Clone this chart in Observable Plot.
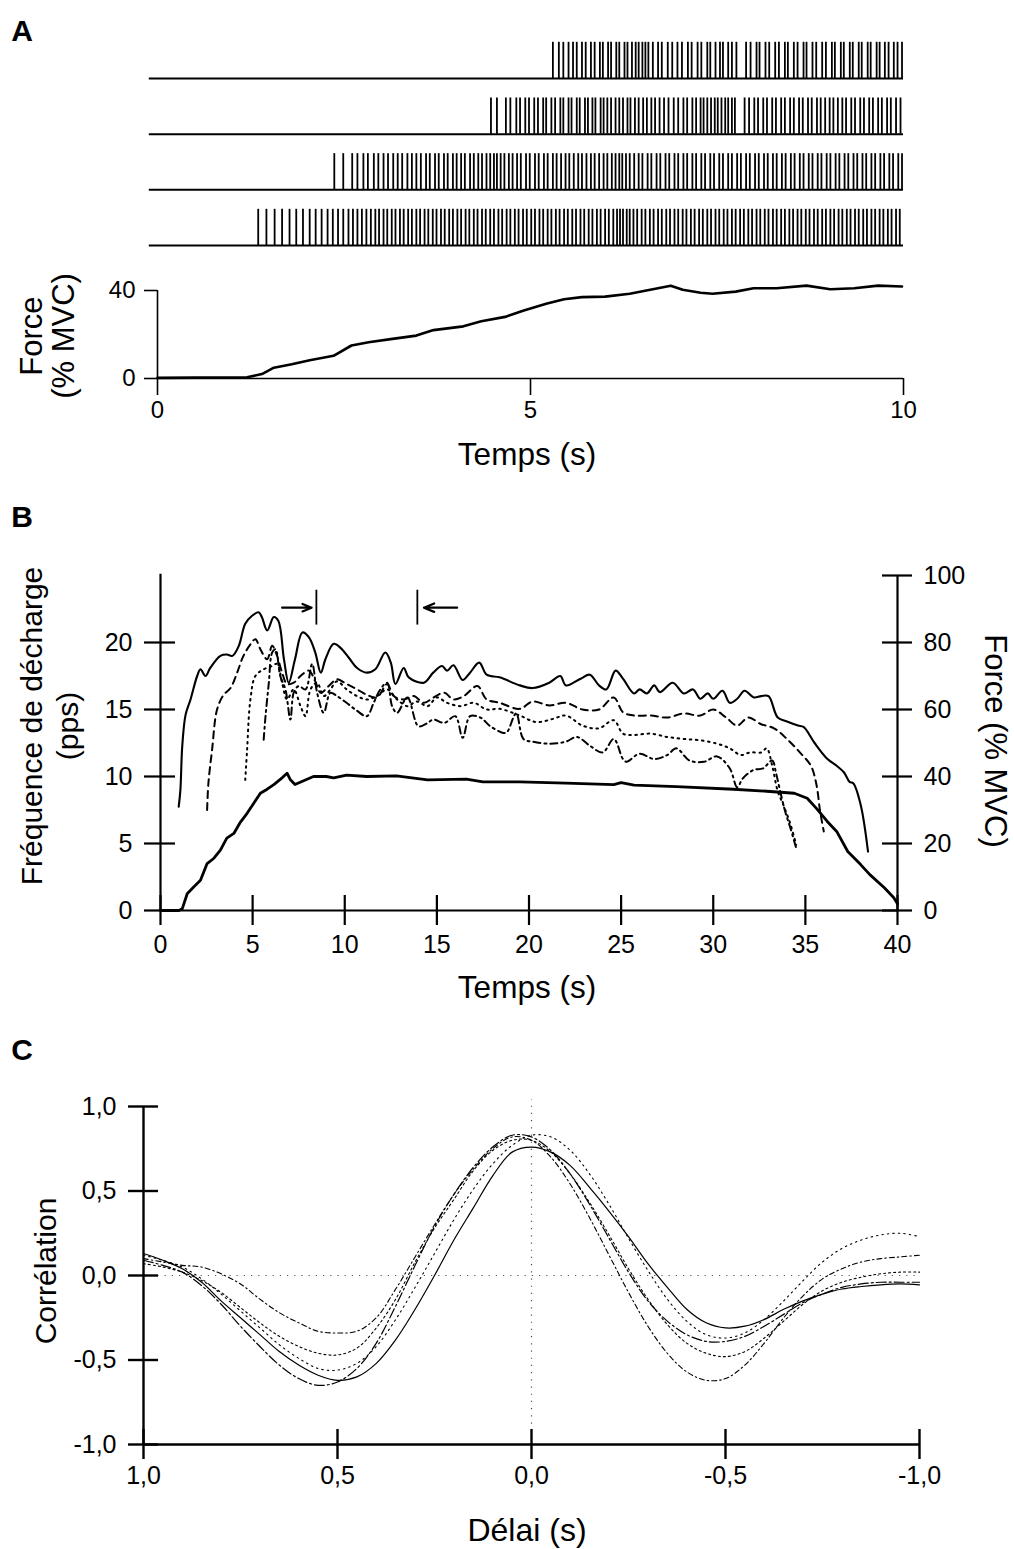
<!DOCTYPE html>
<html lang="fr">
<head>
<meta charset="utf-8">
<script src="https://cdn.jsdelivr.net/npm/d3@7"></script>
<script src="https://cdn.jsdelivr.net/npm/@observablehq/plot@0.6"></script>
<style>
html,body{margin:0;padding:0;background:#fff;overflow:hidden;}
#page{position:relative;width:1014px;height:1549px;font-family:Arial,"Liberation Sans",Helvetica,sans-serif;color:#000;}
.panel{position:absolute;left:0;}
.t{position:absolute;white-space:nowrap;font-size:30px;line-height:1;}
.c{transform:translate(-50%,-50%);}
.ccw{transform:translate(-50%,-50%) rotate(-90deg);}
.cw{transform:translate(-50%,-50%) rotate(90deg);}
.letter{font-weight:bold;font-size:30px;}
</style>
</head>
<body>
<div id="page"></div>
<script>
// ================= DATA =================
// Panel A — spike trains (s), one array per motor unit (top to bottom)
const trainStartTime = -0.11;
const trainEndTime = 10;
const spikesRow1 = [5.30,5.38,5.44,5.51,5.57,5.62,5.69,5.74,5.81,5.86,5.93,5.97,6.04,6.08,6.15,6.19,6.26,6.30,6.36,6.41,6.45,6.50,6.54,6.58,6.64,6.71,6.76,6.84,6.90,6.97,7.03,7.11,7.16,7.24,7.29,7.37,7.41,7.48,7.54,7.58,7.65,7.70,7.76,7.89,7.95,8.03,8.07,8.15,8.20,8.28,8.33,8.41,8.45,8.53,8.58,8.66,8.70,8.78,8.83,8.91,8.96,9.04,9.08,9.16,9.20,9.28,9.32,9.40,9.44,9.52,9.56,9.64,9.68,9.75,9.80,9.87,9.92,9.98];
const spikesRow2 = [4.47,4.55,4.67,4.73,4.81,4.86,4.93,4.98,5.05,5.10,5.17,5.21,5.28,5.33,5.40,5.44,5.51,5.55,5.62,5.66,5.73,5.77,5.83,5.87,5.94,5.98,6.03,6.08,6.14,6.19,6.24,6.30,6.34,6.40,6.45,6.51,6.56,6.62,6.67,6.73,6.79,6.85,6.92,6.98,7.05,7.10,7.17,7.22,7.28,7.32,7.37,7.42,7.47,7.51,7.56,7.61,7.65,7.70,7.74,7.87,7.93,8.00,8.05,8.12,8.17,8.24,8.29,8.36,8.41,8.48,8.53,8.60,8.65,8.72,8.77,8.84,8.89,8.95,9.01,9.06,9.12,9.18,9.23,9.30,9.35,9.42,9.47,9.54,9.59,9.66,9.71,9.78,9.83,9.90,9.96];
const spikesRow3 = [2.37,2.49,2.61,2.68,2.76,2.82,2.90,2.96,3.03,3.09,3.16,3.22,3.28,3.35,3.41,3.47,3.53,3.60,3.65,3.72,3.77,3.84,3.89,3.96,4.01,4.07,4.12,4.19,4.24,4.30,4.35,4.41,4.46,4.51,4.55,4.60,4.65,4.71,4.76,4.82,4.87,4.94,4.99,5.06,5.11,5.18,5.23,5.30,5.35,5.41,5.47,5.52,5.58,5.64,5.69,5.75,5.81,5.86,5.92,5.98,6.03,6.09,6.14,6.19,6.23,6.28,6.33,6.39,6.45,6.50,6.57,6.62,6.69,6.74,6.81,6.86,6.93,6.98,7.05,7.10,7.17,7.22,7.29,7.34,7.41,7.46,7.53,7.58,7.65,7.70,7.77,7.82,7.89,7.94,8.01,8.06,8.13,8.18,8.25,8.30,8.37,8.42,8.49,8.54,8.61,8.66,8.73,8.78,8.85,8.90,8.97,9.02,9.09,9.14,9.21,9.26,9.33,9.38,9.45,9.50,9.57,9.62,9.69,9.74,9.81,9.86,9.93,9.98];
const spikesRow4 = [1.35,1.46,1.57,1.67,1.77,1.86,1.95,2.04,2.12,2.20,2.28,2.35,2.42,2.49,2.56,2.62,2.68,2.74,2.80,2.86,2.92,2.97,3.03,3.08,3.14,3.19,3.25,3.30,3.36,3.41,3.47,3.52,3.58,3.63,3.69,3.74,3.80,3.85,3.91,3.96,4.02,4.07,4.13,4.18,4.24,4.29,4.35,4.40,4.46,4.51,4.57,4.62,4.68,4.73,4.79,4.84,4.90,4.95,5.01,5.06,5.12,5.17,5.23,5.28,5.34,5.39,5.45,5.50,5.56,5.61,5.67,5.72,5.78,5.83,5.89,5.94,6.00,6.05,6.11,6.16,6.20,6.24,6.29,6.33,6.38,6.43,6.49,6.54,6.60,6.65,6.71,6.76,6.82,6.87,6.93,6.98,7.04,7.09,7.15,7.20,7.26,7.31,7.37,7.42,7.48,7.53,7.59,7.64,7.70,7.75,7.81,7.86,7.92,7.97,8.03,8.08,8.14,8.19,8.25,8.30,8.36,8.41,8.47,8.52,8.58,8.63,8.69,8.74,8.80,8.85,8.91,8.96,9.02,9.07,9.13,9.18,9.24,9.29,9.35,9.40,9.46,9.51,9.57,9.62,9.68,9.73,9.79,9.84,9.90,9.95];

// Panel A — force (% MVC) vs time (s)
const forceA = [[0,0.3],[0.5,0.4],[1.0,0.4],[1.2,0.6],[1.4,2],[1.56,4.9],[1.8,6.5],[2.04,8.3],[2.36,10.3],[2.6,15],[2.83,16.5],[3.15,18],[3.47,19.5],[3.7,22],[4.1,23.7],[4.34,26],[4.66,28],[4.9,30.8],[5.21,34],[5.45,36],[5.69,37],[6.0,37.2],[6.33,38.5],[6.64,40.6],[6.88,42.2],[7.04,40.3],[7.28,39],[7.44,38.5],[7.75,39.5],[7.99,41],[8.3,41],[8.7,42.2],[9.02,40.6],[9.34,41],[9.66,42.2],[9.98,41.8]];
const aXTicks = [0, 5, 10];
const aYTicks = [0, 40];

// Panel B — firing rates (pps) vs time (s), four units
const unit1 = [[0.99,7.75],[1.08,9],[1.18,12.25],[1.36,14.6],[1.63,15.75],[1.99,17.5],[2.17,18],[2.44,17.5],[2.7,18.1],[3.25,19],[3.6,19.1],[3.9,19],[4.25,19.75],[4.6,21.4],[4.97,22],[5.33,22.25],[5.5,21.9],[5.79,20.9],[6.15,21.9],[6.4,21.6],[6.7,18.75],[6.96,17],[7.3,18.75],[7.7,20.75],[8.05,20.4],[8.4,19.25],[8.7,17.75],[8.95,18.75],[9.4,19.9],[9.77,19.6],[10.2,18.9],[10.67,18.1],[11.2,17.75],[11.66,18],[12.2,19.25],[12.5,18.5],[12.75,16.9],[13.2,18.1],[13.47,17.4],[14.3,17],[14.8,17.75],[15.28,18.25],[15.55,17.9],[15.9,18.3],[16.4,17.2],[16.8,17.75],[17.3,18.5],[17.7,17.6],[18.4,17.4],[19.5,16.8],[20.2,16.6],[21.1,17],[21.7,17.5],[22,16.8],[22.8,17.3],[23.3,17.6],[23.8,16.8],[24.2,16.5],[24.7,17.9],[25.1,17.3],[25.7,16.2],[26,16.5],[26.4,16.2],[26.8,16.8],[27.1,16.3],[27.8,17],[28.4,16.2],[28.9,16.5],[29.3,15.8],[29.7,16.2],[30,15.8],[30.5,16.4],[30.9,15.5],[31.3,15.8],[31.7,16.4],[32.2,15.9],[32.6,16],[33,16],[33.5,14.4],[34,14.1],[34.6,13.8],[34.9,13.7],[35.5,12.5],[36.2,11.3],[36.7,10.8],[37.1,10.3],[37.4,9.6],[37.6,9.5],[38,7.9],[38.4,4.4]];
const unit2 = [[2.53,7.5],[2.6,9.5],[2.8,12],[3.07,15],[3.43,16.1],[3.8,16.6],[4.16,17.75],[4.5,19],[4.9,19.9],[5.15,20.25],[5.42,19.5],[5.79,18.75],[6.06,19.75],[6.33,19],[6.6,17.75],[6.87,16.9],[7.23,17],[7.6,17.5],[8.05,17.9],[8.4,17.1],[8.7,16.25],[9.13,16.75],[9.58,17.25],[10.1,16.9],[10.67,16.5],[11.2,16.1],[11.75,15.9],[12.3,16.9],[12.66,16],[13.2,15.75],[13.74,16],[14.3,15.5],[14.83,15.9],[15.4,16.25],[15.9,15.75],[16.46,16],[17.2,16.75],[17.7,15.75],[18.4,15.5],[19.5,15.05],[20.2,15.6],[21.1,15.3],[22,15.5],[22.9,15],[23.8,15],[24.6,15.9],[25.1,14.8],[25.7,14.55],[26.6,14.55],[27.5,14.4],[28.4,14.7],[29.3,14.55],[30,15],[30.7,14.4],[31.3,13.8],[31.9,14.4],[32.6,13.9],[33.3,13.6],[34,12.8],[34.7,11.8],[35.3,10.8],[35.6,9.4],[35.8,7.4],[36,5.9]];
const unit3 = [[4.6,9.75],[4.7,12],[4.88,15.75],[5.15,17.5],[5.6,18],[6.06,18.25],[6.33,18.4],[6.6,17],[6.87,15.75],[7.23,16.5],[7.6,15.25],[7.87,14.5],[8.14,16.5],[8.5,17],[8.86,16],[9.22,16.5],[9.58,17.1],[10.1,16.5],[10.67,16],[11.2,15.75],[11.75,16],[12.3,16.5],[12.84,15.75],[13.4,15.25],[13.9,15.6],[14.5,15.25],[15,15.9],[15.55,15.5],[16.3,15.25],[17,15.5],[17.7,15],[18.4,15.05],[19.5,14.55],[20.4,14.06],[21.3,14.3],[22,14.55],[22.9,13.8],[23.8,13.6],[24.6,14.2],[25.1,13.2],[25.7,13.1],[26.6,13.2],[27.5,12.95],[28.4,12.8],[29.3,12.7],[30.2,12.45],[30.9,12.1],[31.5,11.6],[32,11.8],[32.6,11.8],[32.9,12.1],[33.2,10.8],[33.5,8.9],[33.8,7.9],[34.2,6.4],[34.5,4.9]];
const unit4 = [[5.6,12.75],[5.7,14.5],[5.88,17],[6.06,19.25],[6.24,19.5],[6.5,17.5],[6.78,16.5],[7.05,14.25],[7.23,16.25],[7.5,16.75],[7.87,16.5],[8.23,18.4],[8.5,16.25],[8.86,14.75],[9.22,16.25],[9.58,16],[10.1,15.5],[10.67,14.9],[11.2,14.5],[11.57,15.5],[11.93,16.5],[12.3,17],[12.57,15.25],[12.84,14.75],[13.4,15.9],[14,13.75],[14.5,14],[14.8,14.25],[15.4,14],[16,14.5],[16.4,12.9],[16.8,14.5],[17.36,14.4],[17.9,13.75],[18.6,13.25],[18.8,13.3],[19.3,14.7],[19.7,12.8],[20.2,12.6],[21.1,12.45],[22,12.6],[22.6,12.95],[23.3,12.3],[24,11.8],[24.6,12.8],[25.1,11.3],[25.3,11.1],[26,11.7],[26.8,11.3],[27.5,11.6],[28,12.1],[28.7,11.2],[29.5,11.1],[30.2,11.5],[30.9,10.6],[31.3,9.2],[31.6,9.85],[32.2,10.5],[32.7,10.6],[33.2,11.2],[33.4,10.3],[33.6,9.1],[33.9,7.4],[34.2,6.1],[34.5,4.65]];
// Panel B — force (% MVC) vs time (s), right axis
const forceB = [[0,0],[1.0,0],[1.18,0.5],[1.45,5],[1.8,7],[2.17,9],[2.53,14],[2.9,15.6],[3.25,18],[3.6,21.6],[3.98,23],[4.34,26.4],[4.7,29],[5.06,32],[5.42,35],[5.79,36.2],[6.15,37.6],[6.6,39.6],[6.87,41],[7.05,39],[7.3,37.6],[7.8,38.8],[8.3,40],[9.0,40],[9.4,39.6],[10.1,40.4],[11.2,40],[12.8,40.2],[14.5,39],[16.6,39.2],[17.5,38.4],[19.5,38.4],[22,38],[24.6,37.6],[25.0,38.2],[25.7,37.4],[28,37],[31.1,36.2],[32.9,35.6],[34.4,35],[35.1,33.5],[35.6,30.5],[36.2,26.5],[36.7,23.6],[37.3,17.6],[38,13.7],[38.5,10.7],[39.3,6.7],[39.8,3.8],[40,2]];
// Panel B — analysis window markers (s) and arrows
const bMarkers = [8.46, 13.94];
const bMarkerRange = [21.3, 23.9];
const bArrows = [{from: 6.6, to: 8.2, level: 22.6}, {from: 16.1, to: 14.3, level: 22.6}];
const bXTicks = [0, 5, 10, 15, 20, 25, 30, 35, 40];
const bLeftTicks = [0, 5, 10, 15, 20];
const bRightTicks = [0, 20, 40, 60, 80, 100];

// Panel C — cross-correlation vs lag (s)
const cLags = [1.00,0.95,0.90,0.85,0.80,0.75,0.70,0.65,0.60,0.55,0.50,0.45,0.40,0.35,0.30,0.25,0.20,0.15,0.10,0.05,0.00,-0.05,-0.10,-0.15,-0.20,-0.25,-0.30,-0.35,-0.40,-0.45,-0.50,-0.55,-0.60,-0.65,-0.70,-0.75,-0.80,-0.85,-0.90,-0.95,-1.00];
const cSolid       = [0.13,0.09,0.04,-0.04,-0.15,-0.25,-0.35,-0.45,-0.53,-0.59,-0.62,-0.60,-0.52,-0.38,-0.20,0.00,0.21,0.40,0.59,0.73,0.76,0.73,0.65,0.52,0.38,0.23,0.07,-0.07,-0.20,-0.28,-0.31,-0.30,-0.26,-0.20,-0.15,-0.11,-0.08,-0.065,-0.055,-0.05,-0.055];
const cLongDashDot = [0.09,0.06,0.02,-0.06,-0.17,-0.30,-0.42,-0.53,-0.61,-0.65,-0.63,-0.55,-0.40,-0.18,0.06,0.29,0.48,0.64,0.76,0.83,0.82,0.74,0.60,0.42,0.22,0.02,-0.15,-0.27,-0.35,-0.39,-0.39,-0.36,-0.30,-0.23,-0.16,-0.11,-0.07,-0.05,-0.04,-0.04,-0.04];
const cDashDot     = [0.10,0.08,0.06,0.05,0.01,-0.05,-0.14,-0.22,-0.28,-0.33,-0.34,-0.33,-0.25,-0.08,0.11,0.30,0.48,0.63,0.75,0.82,0.80,0.70,0.54,0.34,0.12,-0.10,-0.30,-0.46,-0.57,-0.62,-0.61,-0.53,-0.40,-0.25,-0.12,-0.02,0.04,0.08,0.10,0.11,0.12];
const cDotted      = [0.07,0.05,0.02,-0.03,-0.10,-0.19,-0.28,-0.36,-0.42,-0.46,-0.47,-0.43,-0.31,-0.14,0.08,0.28,0.45,0.62,0.74,0.80,0.80,0.73,0.60,0.43,0.24,0.04,-0.14,-0.29,-0.40,-0.46,-0.48,-0.45,-0.37,-0.27,-0.17,-0.09,-0.04,-0.01,0.01,0.02,0.02];
const cSparse      = [0.12,0.09,0.05,-0.02,-0.11,-0.21,-0.31,-0.41,-0.49,-0.55,-0.56,-0.52,-0.42,-0.26,-0.07,0.13,0.33,0.51,0.66,0.77,0.83,0.82,0.74,0.60,0.42,0.22,0.03,-0.14,-0.27,-0.35,-0.37,-0.34,-0.26,-0.15,-0.03,0.08,0.16,0.21,0.24,0.25,0.23];
const cTicks = [1, 0.5, 0, -0.5, -1];

// ================= RENDER =================
const page = document.getElementById("page");
function place(svg, top) {
  const d = document.createElement("div");
  d.className = "panel";
  d.style.top = top + "px";
  d.appendChild(svg);
  page.appendChild(d);
}
function label(text, x, y, cls, size) {
  const d = document.createElement("div");
  d.className = "t " + cls;
  d.textContent = text;
  d.style.left = x + "px";
  d.style.top = y + "px";
  if (size) d.style.fontSize = size + "px";
  page.appendChild(d);
}
const sans = "Arial, 'Liberation Sans', Helvetica, sans-serif";
const fmtComma = d => (Math.abs(d) < 1e-9 ? 0 : d).toFixed(1).replace(".", ",");
const P = d => d[0], V = d => d[1];

// ---- Panel A : spike trains ----
const spikeRows = [spikesRow1, spikesRow2, spikesRow3, spikesRow4];
const spikeData = spikeRows.flatMap((arr, i) => arr.map(t => ({row: i + 1, t})));
const SPIKE_H = 0.65;
place(Plot.plot({
  width: 1014, height: 230, marginLeft: 157, marginRight: 111, marginTop: 0, marginBottom: 0,
  x: {domain: [0, 10], axis: null},
  y: {domain: [1, 4], range: [48, 215], axis: null},
  style: {background: "transparent", overflow: "visible"},
  marks: [
    Plot.ruleY([1, 2, 3, 4], {y: d => d, x1: trainStartTime, x2: trainEndTime, strokeWidth: 2}),
    Plot.ruleX(spikeData, {x: "t", y1: "row", y2: d => d.row - SPIKE_H, strokeWidth: 1.8})
  ]
}), 30);

// ---- Panel A : force ----
place(Plot.plot({
  width: 1014, height: 220, marginLeft: 157, marginRight: 111, marginTop: 30, marginBottom: 102,
  x: {domain: [0, 10]},
  y: {domain: [0, 40]},
  style: {background: "transparent", overflow: "visible", fontFamily: sans, fontSize: "24px"},
  marks: [
    Plot.ruleY([0], {x1: 0, x2: 10, strokeWidth: 1.6}),
    Plot.ruleX([0], {y1: 0, y2: 40, strokeWidth: 1.6}),
    Plot.ruleX(aXTicks, {x: d => d, y1: 0, y2: 0, insetBottom: -17, strokeWidth: 1.6}),
    Plot.ruleY(aYTicks, {y: d => d, x1: 0, x2: 0, insetLeft: -13, strokeWidth: 1.6}),
    Plot.axisX(aXTicks, {tickSize: 0, tickPadding: 22, label: null}),
    Plot.axisY(aYTicks, {tickSize: 0, tickPadding: 22, label: null}),
    Plot.line(forceA, {x: P, y: V, strokeWidth: 2.6})
  ]
}), 260);

// ---- Panel B ----
place(Plot.plot({
  width: 1014, height: 530, marginLeft: 160, marginRight: 117, marginTop: 95, marginBottom: 100,
  x: {domain: [0, 40]},
  y: {domain: [0, 25]},
  style: {background: "transparent", overflow: "visible", fontFamily: sans, fontSize: "25px"},
  marks: [
    Plot.ruleY([0], {x1: 0, x2: 40, strokeWidth: 2.2}),
    Plot.ruleX([0], {y1: 0, y2: 25.1, strokeWidth: 2.2}),
    Plot.ruleX([40], {y1: 0, y2: 25, strokeWidth: 2.2}),
    Plot.ruleX(bXTicks, {x: d => d, y1: 0, y2: 0, insetTop: -15, insetBottom: -15, strokeWidth: 2.2}),
    Plot.ruleY(bLeftTicks, {y: d => d, x1: 0, x2: 0, insetLeft: -16, insetRight: -15, strokeWidth: 2.2}),
    Plot.ruleY(bRightTicks, {y: d => d / 4, x1: 40, x2: 40, insetLeft: -15, insetRight: -15, strokeWidth: 2.2}),
    Plot.axisX(bXTicks, {tickSize: 0, tickPadding: 25, label: null}),
    Plot.axisY(bLeftTicks, {anchor: "left", tickSize: 0, tickPadding: 28, label: null}),
    Plot.axisY(bRightTicks.map(v => v / 4), {anchor: "right", tickSize: 0, tickPadding: 26, label: null, tickFormat: d => String(Math.round(d * 4))}),
    Plot.line(forceB, {x: P, y: d => d[1] / 4, strokeWidth: 2.8}),
    Plot.line(unit1, {x: P, y: V, strokeWidth: 2.1, curve: "catmull-rom"}),
    Plot.line(unit2, {x: P, y: V, strokeWidth: 2, strokeDasharray: "7,5", curve: "catmull-rom"}),
    Plot.line(unit3, {x: P, y: V, strokeWidth: 2, strokeDasharray: "1.6,4.5", curve: "catmull-rom"}),
    Plot.line(unit4, {x: P, y: V, strokeWidth: 2, strokeDasharray: "7,4,2,4", curve: "catmull-rom"}),
    Plot.ruleX(bMarkers, {x: d => d, y1: bMarkerRange[0], y2: bMarkerRange[1], strokeWidth: 1.8}),
    Plot.arrow(bArrows, {x1: "from", x2: "to", y1: "level", y2: "level", strokeWidth: 2.2, headLength: 11, headAngle: 45})
  ]
}), 480);

// ---- Panel C ----
const cMake = vals => cLags.map((lag, i) => ({lag, r: vals[i]}));
place(Plot.plot({
  width: 1014, height: 539, marginLeft: 143, marginRight: 95, marginTop: 96, marginBottom: 105,
  x: {domain: [1, -1]},
  y: {domain: [-1, 1]},
  style: {background: "transparent", overflow: "visible", fontFamily: sans, fontSize: "25px"},
  marks: [
    Plot.ruleY([0], {x1: 1, x2: -1, stroke: "#555", strokeWidth: 1.2, strokeDasharray: "1.2,6"}),
    Plot.ruleX([0], {y1: -1.05, y2: 1.04, stroke: "#555", strokeWidth: 1.2, strokeDasharray: "1.2,6"}),
    Plot.ruleX([1], {y1: -1, y2: 1, strokeWidth: 2.4}),
    Plot.ruleY([-1], {x1: 1, x2: -1, strokeWidth: 2.4}),
    Plot.ruleY(cTicks, {y: d => d, x1: 1, x2: 1, insetLeft: -15, insetRight: -15, strokeWidth: 2.4}),
    Plot.ruleX(cTicks, {x: d => d, y1: -1, y2: -1, insetTop: -15, insetBottom: -15, strokeWidth: 2.4}),
    Plot.axisY(cTicks, {tickSize: 0, tickPadding: 27, label: null, tickFormat: fmtComma}),
    Plot.axisX(cTicks, {tickSize: 0, tickPadding: 22, label: null, tickFormat: fmtComma}),
    Plot.line(cMake(cSparse), {x: "lag", y: "r", strokeWidth: 1.1, strokeDasharray: "1.5,4", curve: "catmull-rom"}),
    Plot.line(cMake(cDotted), {x: "lag", y: "r", strokeWidth: 1.1, strokeDasharray: "2,3", curve: "catmull-rom"}),
    Plot.line(cMake(cDashDot), {x: "lag", y: "r", strokeWidth: 1.1, strokeDasharray: "5,3,1.5,3", curve: "catmull-rom"}),
    Plot.line(cMake(cLongDashDot), {x: "lag", y: "r", strokeWidth: 1.2, strokeDasharray: "10,3,2,3", curve: "catmull-rom"}),
    Plot.line(cMake(cSolid), {x: "lag", y: "r", strokeWidth: 1.2, curve: "catmull-rom"})
  ]
}), 1010);

// ---- Text labels ----
label("A", 22, 31, "c letter");
label("B", 22, 517, "c letter");
label("C", 22, 1050, "c letter");
label("Force", 31, 336, "ccw", 31);
label("(% MVC)", 63, 336, "ccw", 31);
label("Temps (s)", 527, 455, "c", 31.5);
label("Fréquence de décharge", 32, 726, "ccw", 30);
label("(pps)", 68, 726, "ccw", 30);
label("Force (% MVC)", 995, 741, "cw", 31);
label("Temps (s)", 527, 988, "c", 31.5);
label("Corrélation", 46, 1271, "ccw", 30);
label("Délai (s)", 527, 1530, "c", 32);
</script>
</body>
</html>
